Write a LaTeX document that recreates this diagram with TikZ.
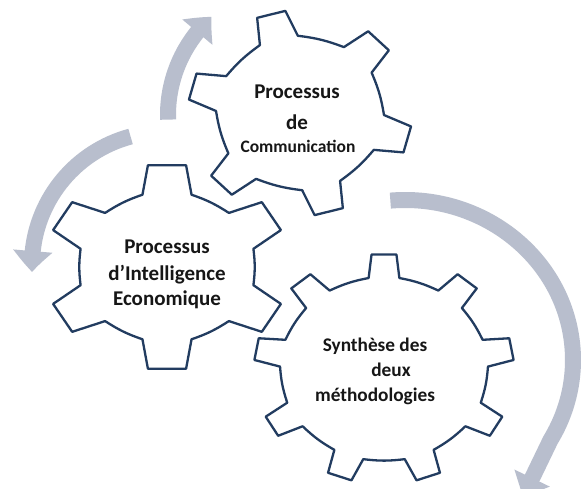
\documentclass[tikz,border=0pt]{standalone}
\usepackage{fontspec}
\setmainfont{Carlito}
\usetikzlibrary{arrows.meta,bending}
\definecolor{gearblue}{RGB}{34,60,96}
\definecolor{arrowgrey}{RGB}{184,190,205}
\definecolor{txtcol}{RGB}{22,22,22}
% #1 cx, #2 cy, #3 rx, #4 ry, #5 teeth, #6 first tooth angle, #7 root ratio, #8 root half angle, #9 tip half angle
\newcommand{\gearoutline}[9]{%
  \filldraw[gearline] ({#1+#7*#3*cos(#6-360/#5+#8)},{#2+#7*#4*sin(#6-360/#5+#8)})
   \foreach \k in {1,...,#5}{
     to[bend left=\gearbend] ({#1+#7*#3*cos(#6+(\k-1)*360/#5-#8)},{#2+#7*#4*sin(#6+(\k-1)*360/#5-#8)})
     -- ({#1+#3*cos(#6+(\k-1)*360/#5-#9)},{#2+#4*sin(#6+(\k-1)*360/#5-#9)})
     -- ({#1+#3*cos(#6+(\k-1)*360/#5+#9)},{#2+#4*sin(#6+(\k-1)*360/#5+#9)})
     -- ({#1+#7*#3*cos(#6+(\k-1)*360/#5+#8)},{#2+#7*#4*sin(#6+(\k-1)*360/#5+#8)})
   } -- cycle;}
\newcommand{\gearbend}{7}
\tikzset{
  gearline/.style={draw=gearblue, fill=white, line width=2.3pt, line join=round},
  cyclearrow/.style={draw=arrowgrey, line width=16pt, -{Triangle[length=21pt,width=38pt,bend]}},
  lbl/.style={font=\fontsize{21}{25}\selectfont\bfseries, text=txtcol, inner sep=0pt, anchor=base},
  lblsmall/.style={lbl, font=\fontsize{17.5}{21}\selectfont\bfseries},
  lblmid/.style={lbl, font=\fontsize{19.3}{23}\selectfont\bfseries}
}
\begin{document}
\begin{tikzpicture}[x=1pt,y=-1pt]
\useasboundingbox (0,0) rectangle (587,489);
\fill[white] (0,0) rectangle (587,489);
% centres of the cycle
\coordinate (c1) at (300,115);
\coordinate (c2) at (165,265);
\coordinate (c3) at (405,360);
% cycle arrows
\draw[cyclearrow] (c1) ++(178:132) arc[start angle=178, end angle=228, radius=132];
\draw[cyclearrow] (c2) ++(255:133) arc[start angle=255, end angle=177, radius=133];
\draw[cyclearrow] (c3) ++(-95:168 and 160) arc[start angle=-95, end angle=30, x radius=168, y radius=160] -- (523,497);
% gears
\gearoutline{384}{369}{130}{115}{9}{-90}{0.80}{8.5}{5.5}
\gearoutline{167}{267}{122}{103}{6}{-90}{0.73}{16}{9}
\gearoutline{300}{113}{112}{103}{6}{-105}{0.75}{13.5}{7.5}
% labels
\node[lbl] (g1a) at (297,99) {Processus};
\node[lbl] (g1b) at (297,130) {de};
\node[lblsmall] (g1c) at (298,153) {Communication};
\node[lbl] (g2a) at (167,254) {Processus};
\node[lbl] (g2b) at (167,281) {d’Intelligence};
\node[lbl] (g2c) at (167,306) {Economique};
\node[lblmid] (g3a) at (375,352) {Synthèse des};
\node[lblmid] (g3b) at (391,377) {deux};
\node[lblmid] (g3c) at (375,402) {méthodologies};
\end{tikzpicture}
\end{document}
